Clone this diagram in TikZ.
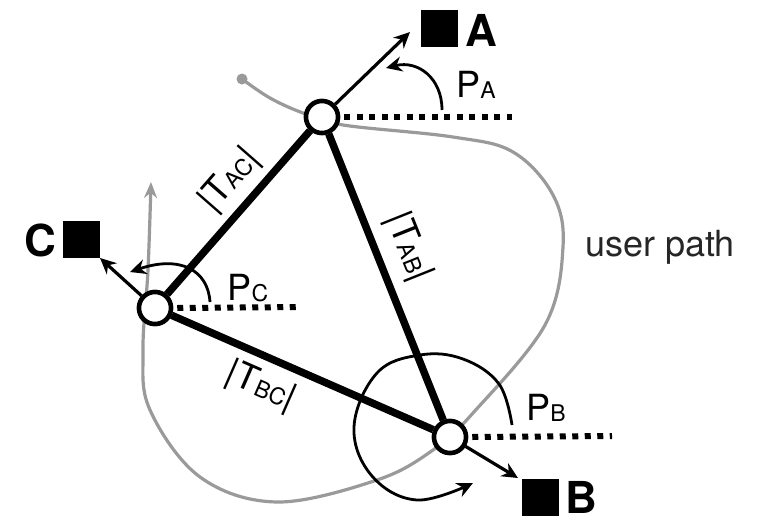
\documentclass[tikz,border=0pt]{standalone}
\usepackage{fontspec}
\setmainfont{TeX Gyre Heros}
\usetikzlibrary{arrows.meta}
\newcommand\lowsub[1]{\raisebox{-1pt}{\fontsize{23}{23}\selectfont #1}}
\begin{document}
\begin{tikzpicture}[x=1pt,y=-1pt,
  pt/.style={circle,draw,line width=4.5pt,fill=white,minimum size=32pt,inner sep=0pt},
  edge/.style={line width=7.5pt},
  dir/.style={line width=3.2pt,-{Stealth[length=16pt,width=15pt]}},
  ang/.style={line width=2.8pt,-{Stealth[length=16pt,width=15pt]}},
  hor/.style={line width=6pt,dash pattern=on 6pt off 6.5pt},
  upath/.style={line width=3.2pt,draw=pathgray},
  sq/.style={fill=black,minimum size=37pt,inner sep=0pt},
  big/.style={font=\fontsize{44}{44}\selectfont\bfseries,inner sep=0pt},
  lbl/.style={font=\fontsize{36}{36}\selectfont,inner sep=0pt},
]
\definecolor{pathgray}{HTML}{9A9A9A}
\useasboundingbox (0,0) rectangle (766,517);
% user path
\coordinate (s0) at (242,79);
\coordinate (gtip) at (151,182);
\draw[upath,-{Stealth[length=16pt,width=13pt]}] plot[smooth,tension=0.6] coordinates {
 (242,79) (270,98) (303,113) (343,125) (453,137) (513,152) (553,195) (563,247)
 (545,325) (473,413) (433,450) (377,480) (277,502) (200,477) (150,410)
 (143,350) (148,270) (151,182)};
\fill[pathgray] (s0) circle (5.5pt);
% nodes
\node[pt] (A) at (322,117) {};
\node[pt] (C) at (155,308) {};
\node[pt] (B) at (450,437) {};
% triangle
\draw[edge] (A) -- (C);
\draw[edge] (A) -- (B);
\draw[edge] (C) -- (B);
\node[pt] at (A) {};
\node[pt] at (C) {};
\node[pt] at (B) {};
% horizontal references
\coordinate (ah) at (512,117);
\coordinate (ch) at (302,307);
\coordinate (bh) at (612,436);
\draw[hor] (A.east) ++(4,0) -- (ah);
\draw[hor] (C.east) ++(4,0) -- (ch);
\draw[hor] (B.east) ++(4,0) -- (bh);
% directions
\coordinate (atip) at (410,32);
\coordinate (ctip) at (100,258);
\coordinate (btip) at (518,478);
\draw[dir] (A) -- (atip);
\draw[dir] (C) -- (ctip);
\draw[dir] (B) -- (btip);
% targets
\node[sq] (sA) at (439,28.5) {};
\node[sq] (sC) at (81,239) {};
\node[sq] (sB) at (540,497) {};
\node[big] (lA) at (481,30) {A};
\node[big] (lC) at (40,240) {C};
\node[big] (lB) at (581,497) {B};
% angle arcs
\draw[ang] (442,110) .. controls (442,78) and (418,60) .. (386,68);
\draw[ang] (210,302) .. controls (208,270) and (180,255) .. (130,272);
\draw[ang] plot[smooth,tension=0.65] coordinates {(512,425) (499,384) (463,359) (420,355) (377,373) (354,427) (372,476) (417,500) (473,483)};
% labels
\node[lbl] (pa) at (476,85) {P\lowsub{A}};
\node[lbl] (pc) at (248,288) {P\lowsub{C}};
\node[lbl] (pb) at (546,408) {P\lowsub{B}};
\node[lbl,rotate=48.8] (tac) at (230,180) {|T\lowsub{AC}|};
\node[lbl,rotate=-68.2] (tab) at (408,247) {|T\lowsub{AB}|};
\node[lbl,rotate=-23.6] (tbc) at (261,387) {|T\lowsub{BC}|};
\node[lbl,text=black!85] (up) at (660,247) {user path};
\end{tikzpicture}
\end{document}
